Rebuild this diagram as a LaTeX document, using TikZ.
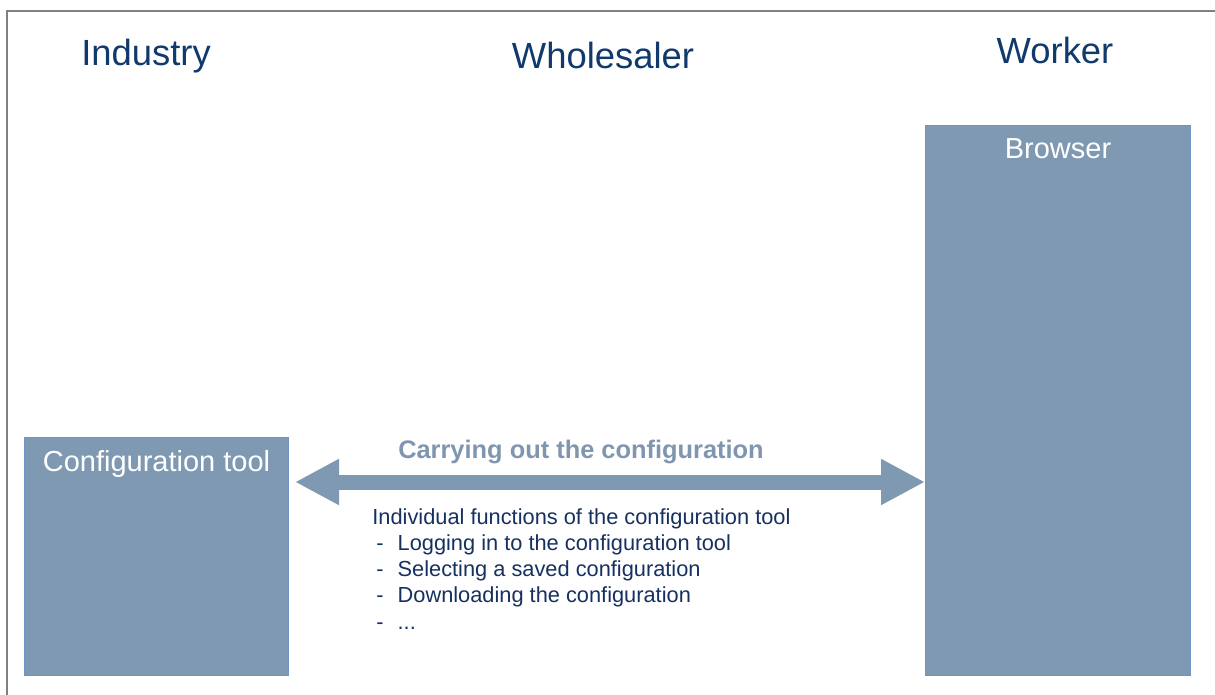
\documentclass[tikz,border=0pt]{standalone}
\usepackage{fontspec}
\setmainfont{Liberation Sans}
\usepackage{tikz}
\usetikzlibrary{arrows.meta}
\definecolor{frame}{RGB}{128,128,128}
\definecolor{title}{RGB}{16,58,108}
\definecolor{boxfill}{RGB}{127,153,179}
\definecolor{boxedge}{RGB}{112,146,196}
\definecolor{arrowtext}{RGB}{128,150,176}
\definecolor{bodytext}{RGB}{22,48,96}
\tikzset{
  role/.style={text=title, font=\fontsize{18.2}{21}\selectfont, inner sep=0pt},
  sysbox/.style={fill=boxfill, draw=boxedge, line width=0.5pt, anchor=north west, inner sep=0pt},
  systitle/.style={text=white, font=\fontsize{14.5}{17}\selectfont, anchor=north, inner sep=0pt},
  bigarrow/.style={boxfill, line width=7.5pt, {Triangle[length=22pt,width=21.5pt]}-{Triangle[length=22pt,width=21.5pt]}}
}
\begin{document}
\begin{tikzpicture}[x=0.5pt, y=-0.5pt]
\useasboundingbox (0,0) rectangle (1215,695);
\draw[frame, line width=1pt] (7,695) -- (7,11) -- (1215,11);
% column headings
\node[role] (industry) at (146,56) {Industry};
\node[role] (wholesaler) at (603,55) {Wholesaler};
\node[role] (worker) at (1055,50) {Worker};
% systems
\node[sysbox, minimum width=132pt, minimum height=119pt] (cfg) at (24,437) {};
\node[systitle] (cfgtitle) at ([yshift=-6.5pt]cfg.north) {Configuration tool};
\node[sysbox, minimum width=132.5pt, minimum height=275pt] (browser) at (925,125) {};
\node[systitle] (browsertitle) at ([yshift=-6.5pt]browser.north) {Browser};
% connection
\coordinate (ay) at (0,482);
\draw[bigarrow] ([xshift=3pt]cfg.east |- ay) -- (browser.west |- ay);
\node[text=arrowtext, font=\bfseries\fontsize{12.7}{15}\selectfont, inner sep=0pt] (carry) at (581,452) {Carrying out the configuration};
\node[text=bodytext, font=\fontsize{10.9}{13.1}\selectfont, align=left, anchor=north west, inner sep=0pt] (functions) at (372,508)
  {Individual functions of the configuration tool\\
   \hspace{2pt}-\hspace{7pt}Logging in to the configuration tool\\
   \hspace{2pt}-\hspace{7pt}Selecting a saved configuration\\
   \hspace{2pt}-\hspace{7pt}Downloading the configuration\\
   \hspace{2pt}-\hspace{7pt}...};
\end{tikzpicture}
\end{document}
